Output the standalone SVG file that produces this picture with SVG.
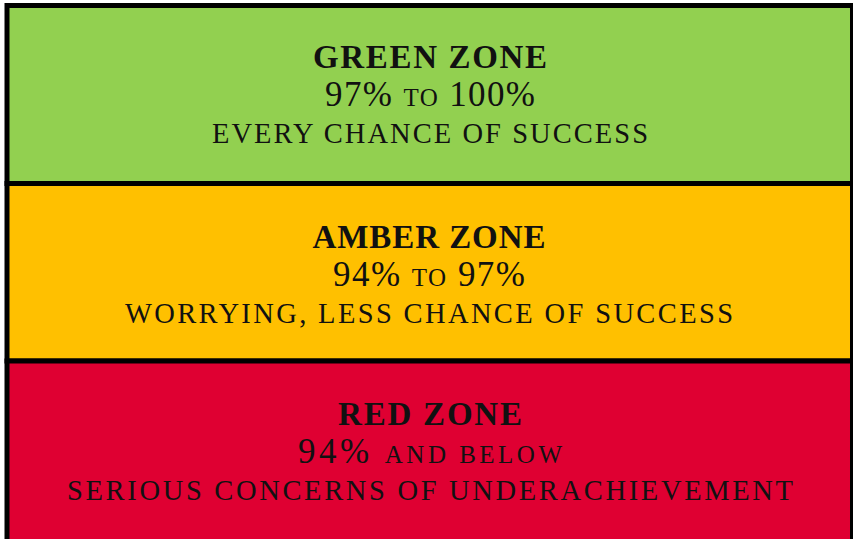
<svg xmlns="http://www.w3.org/2000/svg" width="853" height="539" viewBox="0 0 853 539">
  <style>
    .zone { stroke: #000; stroke-width: 5; }
    .title { font-family: "Liberation Serif", "Times New Roman", serif; font-weight: bold; font-size: 33px; fill: #111; text-anchor: middle; }
    .range { font-family: "Liberation Serif", "Times New Roman", serif; font-size: 35px; fill: #111; text-anchor: middle; }
    .range .sc { font-size: 25px; }
    .note { font-family: "Liberation Serif", "Times New Roman", serif; font-size: 28.5px; fill: #111; text-anchor: middle; }
  </style>
  <rect width="853" height="539" fill="#fff"/>

  <!-- three stacked status bands -->
  <g id="green-zone">
    <rect class="zone" x="7" y="5.5" width="845.5" height="178" fill="#92D050"/>
    <text class="title" x="430" y="68" textLength="234" lengthAdjust="spacing">GREEN ZONE</text>
    <text class="range" x="430" y="106" textLength="210" lengthAdjust="spacing">97% <tspan class="sc">TO</tspan> 100%</text>
    <text class="note" x="430" y="143" textLength="436" lengthAdjust="spacing">EVERY CHANCE OF SUCCESS</text>
  </g>

  <g id="amber-zone">
    <rect class="zone" x="7" y="183.5" width="845.5" height="177.5" fill="#FFC000"/>
    <text class="title" x="429" y="248" textLength="233" lengthAdjust="spacing">AMBER ZONE</text>
    <text class="range" x="429" y="286" textLength="192" lengthAdjust="spacing">94% <tspan class="sc">TO</tspan> 97%</text>
    <text class="note" x="429" y="323" textLength="608" lengthAdjust="spacing">WORRYING, LESS CHANCE OF SUCCESS</text>
  </g>

  <g id="red-zone">
    <rect class="zone" x="7" y="361" width="845.5" height="182" fill="#DF0032"/>
    <text class="title" x="430" y="425" textLength="184" lengthAdjust="spacing">RED ZONE</text>
    <text class="range" x="430" y="463" textLength="264" lengthAdjust="spacing">94% <tspan class="sc">AND BELOW</tspan></text>
    <text class="note" x="430" y="500" textLength="726" lengthAdjust="spacing">SERIOUS CONCERNS OF UNDERACHIEVEMENT</text>
  </g>
</svg>
